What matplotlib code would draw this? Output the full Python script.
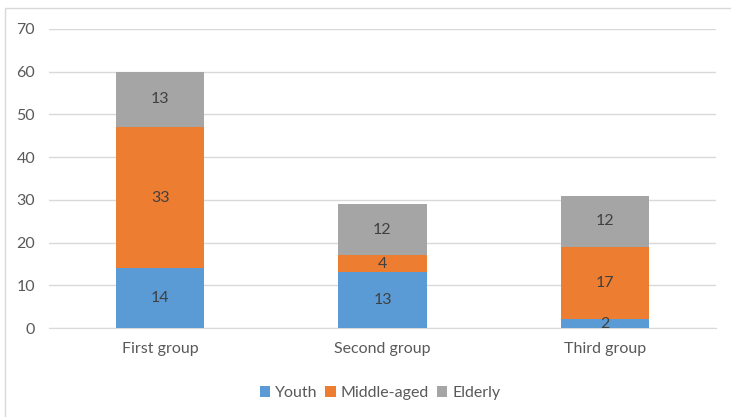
import matplotlib
matplotlib.use("Agg")
import matplotlib.pyplot as plt
import numpy as np

categories = ["First group", "Second group", "Third group"]
youth = [14, 13, 2]
middle = [33, 4, 17]
elderly = [13, 12, 12]
series_names = ["Youth", "Middle-aged", "Elderly"]
colors = ["#5B9BD5", "#ED7D31", "#A5A5A5"]

plt.rcParams['font.family'] = ['Lato', 'DejaVu Sans']

fig = plt.figure(figsize=(7.31, 4.17), dpi=100)
# outer frame (only left and top edges visible in the reference)
fig.patches.append(plt.Rectangle((5/731, -0.05), 1.1, 1.05 - 8/417 + 0.0, transform=fig.transFigure,
                                 fill=False, edgecolor="#D9D9D9", linewidth=1))
ax = fig.add_axes([49/731, 1 - 328/417, (716 - 49)/731, (328 - 29)/417])

x = np.arange(len(categories))
width = 88 / 222
bottom = np.zeros(len(categories))
for vals, name, col in zip([youth, middle, elderly], series_names, colors):
    ax.bar(x, vals, width, bottom=bottom, color=col, label=name, zorder=3)
    for xi, v, b in zip(x, vals, bottom):
        ax.text(xi, b + v / 2, str(v), ha="center", va="center", fontsize=11.5,
                color="#404040", zorder=4)
    bottom += np.array(vals)

ax.set_xlim(-0.5, 2.5)
ax.set_ylim(0, 70)
ax.set_yticks(range(0, 71, 10))
ax.set_xticks(x)
ax.set_xticklabels(categories)
ax.tick_params(axis="y", length=0, labelsize=11.5, labelcolor="#595959", pad=10)
ax.tick_params(axis="x", length=0, labelsize=11.5, labelcolor="#595959", pad=10)
ax.grid(axis="y", color="#D9D9D9", linewidth=1, zorder=0)
for s in ["top", "right", "left"]:
    ax.spines[s].set_visible(False)
ax.spines["bottom"].set_color("#D9D9D9")

leg = fig.legend(loc="center", bbox_to_anchor=(380/731, 1 - 393/417), ncol=3, frameon=False,
                 fontsize=11.5, handlelength=0.65, handleheight=0.65, handletextpad=0.3,
                 columnspacing=0.5)
for t in leg.get_texts():
    t.set_color("#595959")

fig.savefig("out.png", dpi=100)
